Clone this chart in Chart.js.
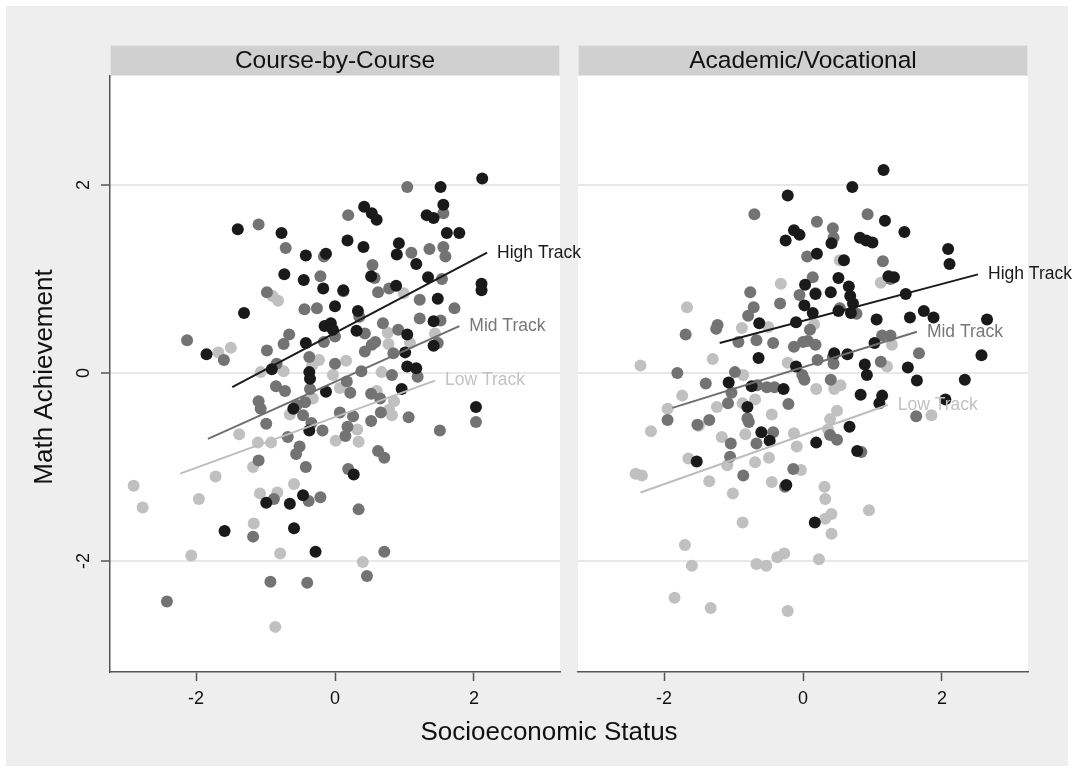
<!DOCTYPE html>
<html>
<head>
<meta charset="utf-8">
<script src="https://cdn.jsdelivr.net/npm/chart.js@4.4.1/dist/chart.umd.min.js"></script>
<style>
  html, body { margin: 0; padding: 0; background: #fff; }
  #frame { position: absolute; left: 6px; top: 6px; width: 1062px; height: 760px; background: #eeeeee; }
  canvas { position: absolute; top: 0; }
  #c1 { left: 0; z-index: 2; }
  #c2 { left: 570px; z-index: 1; }
</style>
</head>
<body>
<div id="frame"></div>
<canvas id="c1" width="1074" height="772"></canvas>
<canvas id="c2" width="504" height="772"></canvas>
<script>
// panel titles, tick values, axis titles
const panelTitles = ['Course-by-Course', 'Academic/Vocational'];
const xTicks = [-2, 0, 2];
const yTicks = [-2, 0, 2];
const xTitle = 'Socioeconomic Status';
const yTitle = 'Math Achievement';
const trackNames = ['High Track', 'Mid Track', 'Low Track'];

// Course-by-Course panel: [SES, math]
const cbcHigh = [
  [-1.40,1.53],[-0.77,1.49],[-0.42,1.25],[-0.13,1.27],[-0.73,1.05],[-0.45,0.99],[-0.17,0.90],[0.12,0.88],
  [-1.31,0.64],[0.00,0.71],[-0.15,0.50],[-0.06,0.53],[-1.85,0.20],[-0.42,0.32],[-0.37,0.01],[-0.36,-0.06],
  [-0.91,0.04],[-0.13,-0.20],[2.12,2.07],[1.52,1.98],[1.56,1.79],[1.32,1.68],[1.42,1.65],[0.42,1.77],
  [0.53,1.70],[0.60,1.63],[1.61,1.49],[1.79,1.49],[0.18,1.41],[0.41,1.34],[0.92,1.38],[0.89,1.26],
  [1.17,1.16],[0.52,1.03],[1.34,1.02],[2.11,0.95],[2.11,0.88],[0.88,0.93],[0.33,0.66],[1.48,0.79],
  [1.42,0.55],[-0.03,0.46],[0.31,0.45],[1.04,0.41],[1.01,0.22],[1.42,0.29],[1.04,0.07],[1.17,0.05],
  [0.96,-0.17],[-0.60,-0.38],[-0.37,-0.61],[-0.99,-1.38],[-0.65,-1.39],[-0.46,-1.30],[-1.59,-1.68],
  [-0.59,-1.65],[-0.28,-1.90],[2.03,-0.36],[0.27,-1.08]
];
const cbcMid = [
  [-1.10,1.58],[-0.71,1.33],[-0.16,1.24],[-0.21,1.03],[-0.98,0.86],[-0.44,0.68],[-0.26,0.69],[0.00,0.39],
  [-2.13,0.35],[-1.60,0.14],[-0.98,0.24],[-0.66,0.41],[-0.74,0.31],[-0.16,0.33],[-0.37,0.17],[-0.84,0.10],
  [-0.85,-0.14],[-0.72,-0.19],[0.00,0.10],[-0.36,-0.17],[-1.10,-0.30],[1.04,1.98],[1.56,1.70],[0.19,1.68],
  [1.10,1.28],[1.36,1.32],[1.56,1.34],[1.59,1.24],[0.54,1.15],[0.57,1.01],[1.54,1.00],[0.12,0.87],
  [0.62,0.86],[0.78,0.90],[0.35,0.60],[1.22,0.78],[1.72,0.69],[1.22,0.58],[1.52,0.56],[0.69,0.53],
  [0.43,0.42],[0.91,0.46],[0.58,0.33],[0.53,0.30],[0.43,0.23],[0.84,0.21],[1.48,0.32],[0.38,0.02],
  [0.82,-0.02],[1.19,-0.04],[0.17,-0.09],[0.22,-0.21],[0.52,-0.22],[0.65,-0.27],[-1.07,-0.38],[-0.55,-0.34],
  [-0.43,-0.31],[-0.46,-0.45],[-0.34,-0.53],[-0.18,-0.61],[-0.99,-0.54],[-0.68,-0.68],[-0.51,-0.78],
  [-0.56,-0.86],[0.07,-0.42],[-1.10,-0.93],[-0.42,-1.00],[-0.88,-1.34],[-0.38,-1.36],[-0.21,-1.32],
  [-1.18,-1.74],[-0.93,-2.22],[-0.40,-2.23],[-2.42,-2.43],[2.03,-0.52],[0.26,-0.46],[0.52,-0.51],
  [0.66,-0.42],[1.06,-0.47],[1.51,-0.61],[0.18,-0.57],[0.15,-0.67],[0.62,-0.83],[0.71,-0.90],[0.19,-1.02],
  [0.34,-1.45],[0.71,-1.90],[0.46,-2.16]
];
const cbcLow = [
  [-0.90,0.82],[-0.82,0.77],[-1.68,0.22],[-1.50,0.27],[-0.23,0.14],[-0.33,0.08],[-1.07,0.01],[-0.74,0.02],
  [-0.03,-0.02],[-0.32,-0.27],[0.99,0.85],[0.76,0.43],[1.44,0.42],[0.77,0.31],[1.08,0.32],[0.16,0.13],
  [0.67,0.01],[0.60,-0.19],[0.07,-0.16],[-0.65,-0.44],[-1.38,-0.65],[-1.11,-0.74],[-0.92,-0.74],[0.01,-0.72],
  [-1.18,-1.00],[-1.72,-1.10],[-2.90,-1.20],[-2.77,-1.43],[-1.96,-1.34],[-1.08,-1.28],[-0.83,-1.27],
  [-0.59,-1.18],[-1.17,-1.60],[-2.07,-1.94],[-0.79,-1.92],[-0.86,-2.70],[0.85,-0.30],[0.78,-0.39],
  [0.82,-0.45],[0.32,-0.60],[0.34,-0.73],[0.40,-2.01]
];
// fitted lines, [start, end]
const cbcHighFit = [[-1.48,-0.15],[2.19,1.28]];
const cbcMidFit = [[-1.83,-0.70],[1.79,0.50]];
const cbcLowFit = [[-2.23,-1.07],[1.44,-0.08]];

// Academic/Vocational panel
const avHigh = [
  [-0.22,1.89],[-0.13,1.52],[-0.05,1.47],[-0.25,1.41],[0.20,1.27],[0.03,0.94],[0.18,0.84],[0.02,0.72],
  [0.14,0.64],[-0.63,0.53],[-0.10,0.54],[-0.64,0.16],[-0.10,0.07],[-1.07,-0.10],[-0.74,-0.14],[-0.28,-0.17],
  [1.16,2.16],[0.71,1.98],[1.18,1.62],[1.46,1.50],[0.41,1.38],[0.82,1.44],[0.91,1.41],[1.00,1.39],
  [2.09,1.32],[2.11,1.16],[0.59,1.20],[1.23,1.03],[1.31,1.02],[0.51,1.01],[0.66,0.92],[0.68,0.82],
  [0.40,0.86],[0.72,0.74],[1.48,0.84],[0.51,0.66],[0.69,0.64],[1.06,0.57],[1.54,0.59],[1.74,0.66],
  [1.88,0.59],[2.65,0.57],[1.03,0.32],[0.45,0.21],[0.64,0.20],[0.89,0.09],[0.92,-0.02],[1.51,0.06],
  [2.57,0.19],[1.64,-0.08],[2.33,-0.07],[0.83,-0.23],[1.14,-0.24],[2.05,-0.28],[-0.80,-0.36],[-0.60,-0.63],
  [-0.48,-0.72],[0.19,-0.74],[-1.53,-0.94],[-0.24,-1.19],[0.17,-1.59],[1.10,-0.32],[0.67,-0.57],[0.78,-0.83]
];
const avMid = [
  [-0.70,1.69],[0.20,1.61],[0.06,1.24],[0.14,1.02],[0.18,0.85],[-0.05,0.83],[-0.76,0.86],[-0.71,0.70],
  [-0.79,0.61],[-0.33,0.74],[-1.23,0.51],[-1.25,0.47],[0.10,0.46],[-1.69,0.41],[-0.93,0.33],[-0.67,0.35],
  [-0.43,0.32],[-0.13,0.28],[0.00,0.33],[0.07,0.34],[0.18,0.30],[-0.01,-0.02],[0.02,-0.07],[0.21,0.14],
  [-1.81,0.00],[-0.98,0.01],[-1.40,-0.11],[-0.66,-0.13],[-0.52,-0.15],[-0.41,-0.15],[-1.03,-0.21],
  [0.93,1.69],[0.43,1.54],[0.44,1.44],[1.15,1.19],[1.26,1.00],[0.53,0.69],[0.77,0.63],[1.14,0.40],
  [1.26,0.40],[0.43,0.17],[0.44,0.10],[1.12,0.12],[1.67,0.21],[0.40,-0.07],[-1.08,-0.32],[-0.21,-0.33],
  [-1.95,-0.50],[-1.52,-0.55],[-1.35,-0.50],[-0.80,-0.48],[-0.78,-0.52],[-1.04,-0.75],[-0.43,-0.63],
  [-0.67,-0.75],[-1.05,-0.89],[-0.14,-1.02],[-0.86,-1.09],[-0.26,-1.21],[1.63,-0.46],[0.39,-0.66],
  [0.49,-0.71],[0.84,-0.84]
];
const avLow = [
  [-0.32,0.95],[-1.67,0.70],[-0.88,0.48],[-0.50,0.49],[0.16,0.52],[-1.30,0.15],[-0.22,0.11],[-2.34,0.08],
  [-0.86,-0.02],[-1.74,-0.24],[0.19,-0.17],[0.53,1.20],[1.12,0.96],[1.28,0.30],[1.21,0.07],[0.54,-0.13],
  [0.45,-0.17],[-0.87,-0.32],[-0.69,-0.28],[-1.24,-0.36],[-1.95,-0.38],[-1.50,-0.56],[-0.45,-0.44],
  [-2.19,-0.62],[-1.17,-0.68],[-0.83,-0.65],[-0.13,-0.64],[-0.09,-0.78],[-1.65,-0.91],[-1.09,-0.98],
  [-0.69,-0.95],[-0.49,-0.90],[-0.03,-1.03],[-2.41,-1.07],[-2.32,-1.09],[-1.35,-1.15],[-0.45,-1.16],
  [-1.01,-1.28],[-0.87,-1.59],[-1.70,-1.83],[-1.60,-2.05],[-0.67,-2.03],[-0.53,-2.05],[-0.37,-1.96],
  [-0.27,-1.92],[0.23,-1.98],[-1.85,-2.39],[-1.33,-2.50],[-0.22,-2.53],[1.85,-0.45],[0.49,-0.40],
  [0.39,-0.49],[0.36,-0.60],[0.31,-1.21],[0.32,-1.34],[0.41,-1.50],[0.32,-1.55],[0.95,-1.46],[0.41,-1.71]
];
const avHighFit = [[-1.20,0.32],[2.52,1.05]];
const avMidFit = [[-1.88,-0.37],[1.64,0.44]];
const avLowFit = [[-2.34,-1.27],[1.22,-0.34]];

const FONT = '"Liberation Sans", Arial, Helvetica, sans-serif';
const dotColors = ['#1a1a1a', '#737373', '#c0c0c0'];
const lineColors = ['#1a1a1a', '#6e6e6e', '#bdbdbd'];
const labelColors = ['#1a1a1a', '#777777', '#c2c2c2'];

const toXY = pts => pts.map(([x, y]) => ({ x, y }));

const panelDecor = {
  id: 'panelDecor',
  beforeDraw(chart, args, opts) {
    const { ctx, chartArea: a } = chart;
    ctx.save();
    ctx.fillStyle = '#ffffff';
    ctx.fillRect(a.left, a.top, a.right - a.left, a.bottom - a.top);
    // strip with the panel title
    ctx.fillStyle = '#d0d0d0';
    ctx.fillRect(a.left, 45, a.right - a.left, a.top - 45);
    ctx.strokeStyle = '#dfe6ea';
    ctx.lineWidth = 1;
    ctx.strokeRect(a.left + 0.5, 45.5, a.right - a.left - 1, a.top - 46);
    ctx.fillStyle = '#111';
    ctx.font = '24.5px ' + FONT;
    ctx.textAlign = 'center';
    ctx.textBaseline = 'alphabetic';
    ctx.fillText(opts.title, (a.left + a.right) / 2, 68);
    ctx.restore();
  },
  afterDatasetsDraw(chart, args, opts) {
    const { ctx } = chart;
    const xs = chart.scales.x, ys = chart.scales.y;
    ctx.save();
    ctx.font = '17.5px ' + FONT;
    ctx.textAlign = 'left';
    ctx.textBaseline = 'middle';
    opts.fits.forEach((f, i) => {
      const end = f[1];
      ctx.fillStyle = labelColors[i];
      ctx.fillText(trackNames[i], xs.getPixelForValue(end[0]) + 10, ys.getPixelForValue(end[1]));
    });
    ctx.restore();
  },
  afterDraw(chart, args, opts) {
    if (!opts.axisTitles) return;
    const { ctx } = chart;
    const ys = chart.scales.y;
    ctx.save();
    ctx.fillStyle = '#111';
    ctx.textAlign = 'center';
    ctx.textBaseline = 'middle';
    ctx.font = '18px ' + FONT;
    yTicks.forEach(v => {
      ctx.save();
      ctx.translate(84, ys.getPixelForValue(v));
      ctx.rotate(-Math.PI / 2);
      ctx.fillText(String(v), 0, 0);
      ctx.restore();
    });
    ctx.font = '26px ' + FONT;
    ctx.save();
    ctx.translate(45, 377);
    ctx.rotate(-Math.PI / 2);
    ctx.fillText(yTitle, 0, 0);
    ctx.restore();
    ctx.fillText(xTitle, 549, 733);
    ctx.restore();
  }
};

function makePanel(id, title, groups, fits, first) {
  const datasets = [];
  fits.forEach((f, i) => {
    datasets.push({
      type: 'line',
      data: toXY(f),
      borderColor: lineColors[i],
      borderWidth: 2,
      pointRadius: 0,
      fill: false,
      tension: 0
    });
  });
  groups.forEach((g, i) => {
    datasets.push({
      data: toXY(g),
      backgroundColor: dotColors[i],
      borderWidth: 0,
      pointRadius: 6,
      pointHoverRadius: 6
    });
  });

  return new Chart(document.getElementById(id), {
    type: 'scatter',
    data: { datasets },
    options: {
      responsive: false,
      animation: false,
      events: [],
      layout: { padding: first ? { top: 76, left: 0, right: 514, bottom: 0 } : { top: 76, left: 8, right: 46, bottom: 0 } },
      plugins: {
        legend: { display: false },
        tooltip: { enabled: false },
        panelDecor: { title, fits, axisTitles: first }
      },
      scales: {
        x: {
          type: 'linear',
          position: 'bottom',
          min: -3.24,
          max: 3.24,
          afterBuildTicks: s => { s.ticks = xTicks.map(v => ({ value: v })); },
          afterFit: s => { s.height = 100; },
          ticks: {
            font: { size: 18, family: FONT },
            color: '#111',
            padding: 7,
            maxRotation: 0,
            autoSkip: false,
            callback: v => String(v)
          },
          grid: { drawOnChartArea: false, drawTicks: true, tickLength: 9, tickColor: '#555', tickWidth: 1.5 },
          border: { display: true, color: '#555', width: 1.5 }
        },
        y: {
          type: 'linear',
          position: 'left',
          min: -3.18,
          max: 3.16,
          afterBuildTicks: s => { s.ticks = yTicks.map(v => ({ value: v })); },
          afterFit: s => { s.width = first ? 110 : 0; },
          ticks: { display: false },
          grid: {
            color: '#e8e8e8',
            lineWidth: 2,
            drawTicks: first,
            tickLength: 9,
            tickColor: '#555',
            tickWidth: 1.5
          },
          border: { display: first, color: '#555', width: 1.5 }
        }
      }
    },
    plugins: [panelDecor]
  });
}

// the right panel goes underneath so left-panel labels can spill over it
makePanel('c2', panelTitles[1], [avHigh, avMid, avLow], [avHighFit, avMidFit, avLowFit], false);
makePanel('c1', panelTitles[0], [cbcHigh, cbcMid, cbcLow], [cbcHighFit, cbcMidFit, cbcLowFit], true);
</script>
</body>
</html>
